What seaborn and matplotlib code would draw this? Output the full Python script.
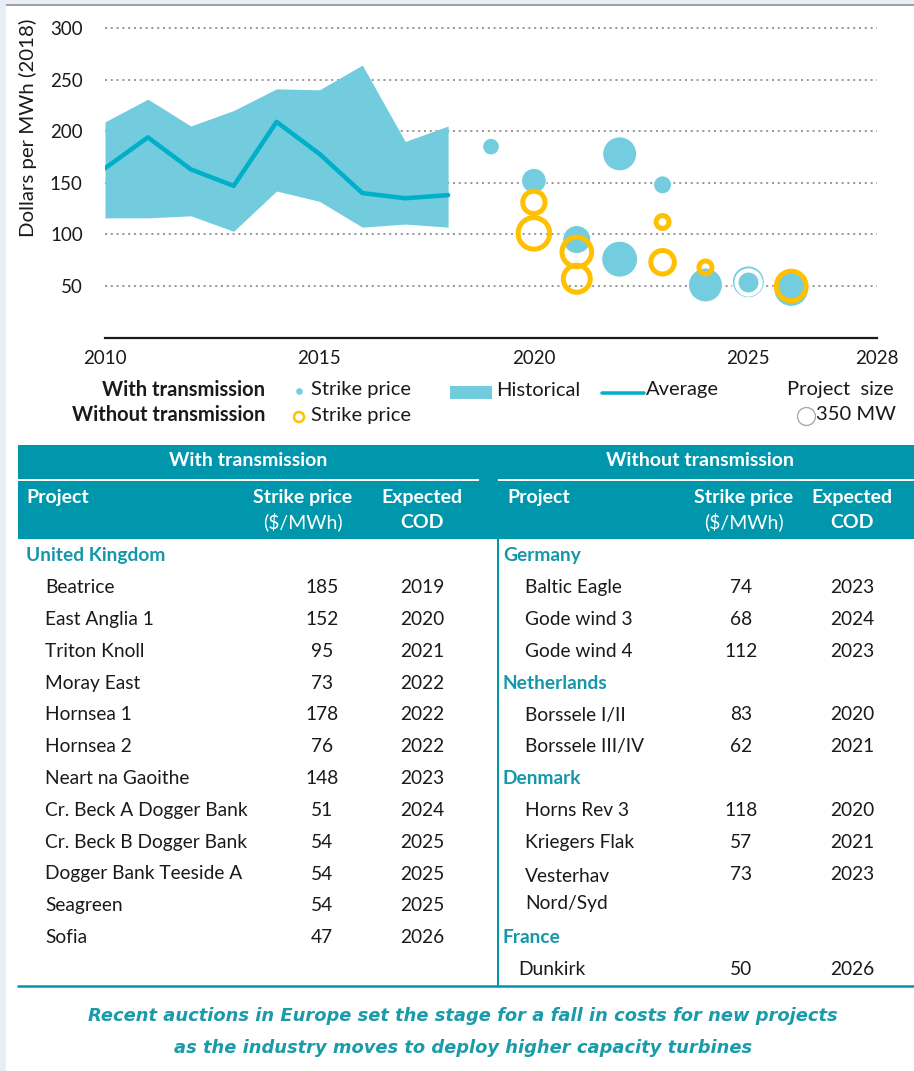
import numpy as np
import pandas as pd
import matplotlib
matplotlib.use("Agg")
import matplotlib.pyplot as plt
import seaborn as sns
from matplotlib.patches import Rectangle

# ------------------------------------------------------------------ data
hist_years = [2010, 2011, 2012, 2013, 2014, 2015, 2016, 2017, 2018]
hist_low = [116, 116, 118, 103, 142, 132, 107, 110, 107]
hist_high = [209, 231, 205, 220, 241, 240, 264, 190, 205]
hist_avg = [164, 194, 163, 147, 209, 178, 140, 135, 138]

# bubbles with transmission (as pictured)
with_tx_year = [2019, 2020, 2021, 2022, 2022, 2022, 2023, 2024, 2025, 2025, 2025, 2026]
with_tx_price = [185, 152, 95, 73, 178, 76, 148, 51, 54, 54, 54, 47]
with_tx_mw = [300, 660, 850, 950, 1250, 1400, 350, 1250, 1100, 1100, 430, 1300]

# bubbles without transmission (as pictured)
without_tx_year = [2020, 2020, 2021, 2021, 2023, 2023, 2024, 2026]
without_tx_price = [131, 101, 83, 57, 112, 73, 68, 50]
without_tx_mw = [540, 1080, 950, 790, 180, 600, 180, 950]

legend_mw = 350

x_ticks = [2010, 2015, 2020, 2025, 2028]
y_ticks = [50, 100, 150, 200, 250, 300]

# table
left_country = "United Kingdom"
left_projects = ["Beatrice", "East Anglia 1", "Triton Knoll", "Moray East", "Hornsea 1",
                 "Hornsea 2", "Neart na Gaoithe", "Cr. Beck A Dogger Bank",
                 "Cr. Beck B Dogger Bank", "Dogger Bank Teeside A", "Seagreen", "Sofia"]
left_prices = [185, 152, 95, 73, 178, 76, 148, 51, 54, 54, 54, 47]
left_cod = [2019, 2020, 2021, 2022, 2022, 2022, 2023, 2024, 2025, 2025, 2025, 2026]

right_groups = [
    ("Germany", [("Baltic Eagle", 74, 2023), ("Gode wind 3", 68, 2024), ("Gode wind 4", 112, 2023)]),
    ("Netherlands", [("Borssele I/II", 83, 2020), ("Borssele III/IV", 62, 2021)]),
    ("Denmark", [("Horns Rev 3", 118, 2020), ("Kriegers Flak", 57, 2021), ("Vesterhav\nNord/Syd", 73, 2023)]),
    ("France", [("Dunkirk", 50, 2026)]),
]

caption = ["Recent auctions in Europe set the stage for a fall in costs for new projects",
           "as the industry moves to deploy higher capacity turbines"]

# ------------------------------------------------------------------ style
W, H, DPI = 914, 1071, 100
BLUE = "#74CDDE"
BAND = "#72CCDD"
AVG = "#00B0C8"
YELLOW = "#FFC000"
TEAL = "#0097AC"
TEAL_TXT = "#1597AA"
CAP = "#1A9BAA"
TXT = "#1a1a1a"
FS_BODY = 13.8
FS_HDR = 14
FS_LEG = 14.5

sns.set_style("white")
plt.rcParams["font.family"] = ["Lato", "DejaVu Sans"]


def pt(px):
    return px * 72.0 / DPI


def radius_px(mw):
    return 0.48 * np.sqrt(np.asarray(mw, dtype=float))


def area(r_px):
    return (2 * np.asarray(r_px) * 72.0 / DPI) ** 2


fig = plt.figure(figsize=(W / DPI, H / DPI), dpi=DPI)
fig.patch.set_facecolor("#E8EEF6")

# background panel
bg = fig.add_axes([0, 0, 1, 1])
bg.set_xlim(0, W); bg.set_ylim(H, 0); bg.axis("off")
bg.add_patch(Rectangle((6, 5), W, H, facecolor="white", edgecolor="none"))
bg.plot([6, W], [5, 5], color="#A0A0A0", lw=pt(2), solid_capstyle="butt")

# ------------------------------------------------------------------ chart
ax = fig.add_axes([105 / W, 1 - 337.6 / H, 772 / W, 320 / H])
ax.set_facecolor("none")
ax.set_xlim(2010, 2028)
ax.set_ylim(0, 310)
ax.set_axisbelow(True)
ax.grid(axis="y", color="#9a9a9a", linestyle=(0, (1, 1.9)), linewidth=pt(2))
ax.grid(axis="x", visible=False)

ax.fill_between(hist_years, hist_low, hist_high, color=BAND, lw=0, zorder=1)
sns.lineplot(x=hist_years, y=hist_avg, color=AVG, lw=pt(4.5), ax=ax, zorder=2)

wt = pd.DataFrame({"year": with_tx_year, "price": with_tx_price, "mw": with_tx_mw})
wt["r"] = radius_px(wt["mw"])
sns.scatterplot(data=wt, x="year", y="price", s=area(wt["r"]), color=BLUE,
                edgecolor="white", linewidth=pt(1), ax=ax, zorder=3, legend=False)
# smaller bubble stacked on a larger one at the same spot gets a white halo
for i in range(len(wt)):
    prev = wt.iloc[:i]
    same = prev[(prev["year"] == wt.loc[i, "year"]) & (prev["price"] == wt.loc[i, "price"])]
    if len(same) and same["r"].max() > wt.loc[i, "r"]:
        ax.scatter([wt.loc[i, "year"]], [wt.loc[i, "price"]], s=area(wt.loc[i, "r"] + 2.1),
                   facecolors=BLUE, edgecolors="white", linewidths=pt(4.2), zorder=3.5)

wo = pd.DataFrame({"year": without_tx_year, "price": without_tx_price, "mw": without_tx_mw})
ax.scatter(wo["year"], wo["price"], s=area(radius_px(wo["mw"])), facecolors="none",
           edgecolors=YELLOW, linewidths=pt(5), zorder=4)

ax.set_xticks(x_ticks)
ax.set_xticklabels([str(t) for t in x_ticks])
ax.set_yticks(y_ticks)
ax.set_yticklabels([str(t) for t in y_ticks])
ax.tick_params(axis="x", length=0, pad=9, labelsize=13.5, labelcolor=TXT)
ax.tick_params(axis="y", length=0, pad=16, labelsize=13.5, labelcolor=TXT)
ax.set_xlabel(""); ax.set_ylabel("")
sns.despine(ax=ax, left=True, top=True, right=True)
ax.spines["bottom"].set_color("#1a1a1a")
ax.spines["bottom"].set_linewidth(pt(2.2))

# ------------------------------------------------------------------ overlay (legend, table, caption)
ov = fig.add_axes([0, 0, 1, 1], facecolor="none")
ov.set_xlim(0, W); ov.set_ylim(H, 0); ov.axis("off")

ov.text(28, 128, "Dollars per MWh (2018)", rotation=90, ha="center", va="center",
        fontsize=14.7, color=TXT)

# legend
ly1, ly2 = 390, 415
ov.text(265, ly1, "With transmission", ha="right", va="center", fontsize=FS_LEG,
        fontweight="bold", color=TXT)
ov.text(265, ly2, "Without transmission", ha="right", va="center", fontsize=FS_LEG,
        fontweight="bold", color=TXT)
ov.scatter([299], [ly1 + 1], s=area(3.3), color=BLUE, linewidths=0)
ov.text(311, ly1, "Strike price", ha="left", va="center", fontsize=FS_LEG, color=TXT)
ov.scatter([299], [ly2 + 2], s=area(5), facecolors="none", edgecolors=YELLOW, linewidths=pt(2.5))
ov.text(311, ly2, "Strike price", ha="left", va="center", fontsize=FS_LEG, color=TXT)
ov.add_patch(Rectangle((450, 386), 42, 13, facecolor=BAND, edgecolor="none"))
ov.text(496, ly1, "Historical", ha="left", va="center", fontsize=FS_LEG, color=TXT)
ov.plot([602, 644], [392.5, 392.5], color=AVG, lw=pt(3.5), solid_capstyle="round")
ov.text(646, ly1, "Average", ha="left", va="center", fontsize=FS_LEG, color=TXT)
ov.text(894, ly1, "Project  size", ha="right", va="center", fontsize=FS_LEG, color=TXT)
ov.scatter([806], [ly2 + 1], s=area(radius_px(legend_mw)), facecolors="white",
           edgecolors="#A6A6A6", linewidths=pt(1.3))
ov.text(816, ly2, "350 MW", ha="left", va="center", fontsize=FS_LEG, color=TXT)

# table header
ov.add_patch(Rectangle((18, 445), W - 18, 94, facecolor=TEAL, edgecolor="none"))
ov.plot([18, 479], [480, 480], color="white", lw=pt(2), solid_capstyle="butt")
ov.plot([498, W], [480, 480], color="white", lw=pt(2), solid_capstyle="butt")
hdr = dict(fontsize=FS_HDR, color="white", va="center")
ov.text(248, 461, "With transmission", ha="center", fontweight="bold", **hdr)
ov.text(700, 461, "Without transmission", ha="center", fontweight="bold", **hdr)
for x0, xp, xc in [(26, 303, 422), (507, 744, 852)]:
    ov.text(x0, 497, "Project", ha="left", fontweight="bold", **hdr)
    ov.text(xp, 497, "Strike price", ha="center", fontweight="bold", **hdr)
    ov.text(xp, 522, "($/MWh)", ha="center", **hdr)
    ov.text(xc, 497, "Expected", ha="center", fontweight="bold", **hdr)
    ov.text(xc, 522, "COD", ha="center", fontweight="bold", **hdr)

# table lines
ov.plot([498, 498], [539, 986], color=TEAL, lw=pt(2), solid_capstyle="butt")
ov.plot([17, W], [986, 986], color=TEAL, lw=pt(2.5), solid_capstyle="butt")

# table body
row0, pitch = 556, 31.8
body = dict(fontsize=FS_BODY, color=TXT, va="center")
ov.text(26, row0, left_country, ha="left", fontsize=FS_BODY, fontweight="bold",
        color=TEAL_TXT, va="center")
for k, (p, s, c) in enumerate(zip(left_projects, left_prices, left_cod), start=1):
    y = row0 + k * pitch
    ov.text(45, y, p, ha="left", **body)
    ov.text(322, y, str(s), ha="center", **body)
    ov.text(422, y, str(c), ha="center", **body)

k = 0
for country, items in right_groups:
    y = row0 + k * pitch
    ov.text(503, y, country, ha="left", fontsize=FS_BODY, fontweight="bold",
            color=TEAL_TXT, va="center")
    k += 1
    for name, s, c in items:
        y = row0 + k * pitch
        xname = 518 if country == "France" else 525
        if "\n" in name:
            a, b = name.split("\n")
            ov.text(xname, y + 2, a, ha="left", **body)
            ov.text(xname, y + 30, b, ha="left", **body)
            k += 1
        else:
            ov.text(xname, y, name, ha="left", **body)
        ov.text(741, y, str(s), ha="center", **body)
        ov.text(852, y, str(c), ha="center", **body)
        k += 1

# caption
for i, line in enumerate(caption):
    ov.text(463, 1016 + 32 * i, line, ha="center", va="center", fontsize=12.9,
            fontweight="bold", fontstyle="italic", color=CAP,
            family=["DejaVu Sans"])

fig.savefig("out.png", dpi=DPI, facecolor=fig.get_facecolor())
